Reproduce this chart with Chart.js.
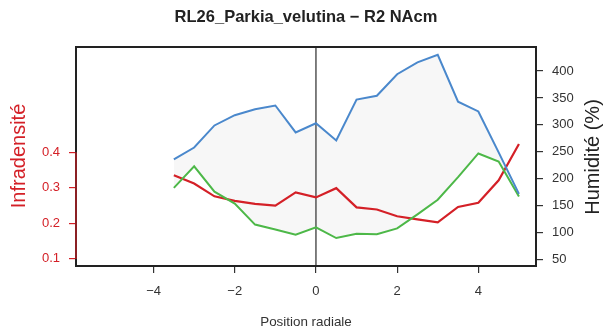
<!DOCTYPE html>
<html>
<head>
<meta charset="utf-8">
<script src="https://cdn.jsdelivr.net/npm/chart.js@4/dist/chart.umd.min.js"></script>
<style>
  html, body { margin: 0; padding: 0; background: #fff; }
  canvas { display: block; }
</style>
</head>
<body>
<canvas id="chart" width="605" height="336"></canvas>
<script>
// radial positions of the samples
const positions = [-3.5, -3, -2.5, -2, -1.5, -1, -0.5, 0, 0.5, 1, 1.5, 2, 2.5, 3, 3.5, 4, 4.5, 5];

// humidity (%) upper curve and lower curve
const humiditeHaut = [236, 258, 299, 318, 329, 336, 286, 303, 271, 347, 354, 394, 416, 430, 343, 325, 249, 172];
const humiditeBas = [183, 223, 176, 154, 115, 106, 96, 110, 90, 98, 97, 108, 134, 161, 203, 247, 232, 167];

// infradensity
const infradensite = [0.335, 0.312, 0.276, 0.263, 0.255, 0.250, 0.287, 0.273, 0.299, 0.245, 0.239, 0.220, 0.211, 0.203, 0.246, 0.258, 0.321, 0.423];

// tick labels
const xTicks = [-4, -2, 0, 2, 4];
const infraTicks = [0.1, 0.2, 0.3, 0.4];
const humTicks = [50, 100, 150, 200, 250, 300, 350, 400];

const FONT = '"Liberation Sans", Arial, Helvetica, sans-serif';
const RED = '#D42027';
const BLUE = '#4A88CC';
const GREEN = '#4DB848';
const INK = '#333';

function pts(ys) {
  return positions.map((x, i) => ({ x: x, y: ys[i] }));
}

const decor = {
  id: 'decor',
  beforeDatasetsDraw(chart) {
    const ctx = chart.ctx;
    const a = chart.chartArea;
    const x0 = chart.scales.x.getPixelForValue(0);
    ctx.save();
    ctx.strokeStyle = '#555';
    ctx.lineWidth = 1.5;
    ctx.beginPath();
    ctx.moveTo(x0, a.top);
    ctx.lineTo(x0, a.bottom);
    ctx.stroke();
    ctx.restore();
  },
  afterDatasetsDraw(chart) {
    const ctx = chart.ctx;
    const a = chart.chartArea;
    const yl = chart.scales.yInf;
    ctx.save();
    // plot box
    ctx.strokeStyle = '#222';
    ctx.lineWidth = 2;
    ctx.strokeRect(a.left, a.top, a.right - a.left, a.bottom - a.top);
    // left axis line in red
    ctx.strokeStyle = RED;
    ctx.lineWidth = 1.2;
    ctx.beginPath();
    ctx.moveTo(a.left, yl.getPixelForValue(0.4));
    ctx.lineTo(a.left, yl.getPixelForValue(0.1));
    ctx.stroke();

    // titles
    const cx = (a.left + a.right) / 2;
    ctx.textAlign = 'center';
    ctx.textBaseline = 'middle';
    ctx.fillStyle = '#222';
    ctx.font = 'bold 16.5px ' + FONT;
    ctx.fillText('RL26_Parkia_velutina \u2212 R2 NAcm', cx, 17);
    ctx.fillStyle = INK;
    ctx.font = '13.4px ' + FONT;
    ctx.fillText('Position radiale', cx, 322);

    ctx.font = '20px ' + FONT;
    ctx.save();
    ctx.translate(19, 156);
    ctx.rotate(-Math.PI / 2);
    ctx.fillStyle = RED;
    ctx.fillText('Infradensit\u00e9', 0, 0);
    ctx.restore();

    ctx.save();
    ctx.translate(593, 157);
    ctx.rotate(-Math.PI / 2);
    ctx.fillStyle = '#222';
    ctx.fillText('Humidit\u00e9 (%)', 0, 0);
    ctx.restore();
    ctx.restore();
  }
};

function fixedTicks(values) {
  return function (scale) {
    scale.ticks = values.map(v => ({ value: v }));
  };
}

new Chart(document.getElementById('chart'), {
  type: 'line',
  data: {
    datasets: [
      {
        label: 'Humidité haut',
        data: pts(humiditeHaut),
        yAxisID: 'yHum',
        borderColor: BLUE,
        backgroundColor: '#F7F7F7',
        borderWidth: 2,
        pointRadius: 0,
        tension: 0,
        fill: '+1'
      },
      {
        label: 'Humidité bas',
        data: pts(humiditeBas),
        yAxisID: 'yHum',
        borderColor: GREEN,
        borderWidth: 2,
        pointRadius: 0,
        tension: 0,
        fill: false
      },
      {
        label: 'Infradensité',
        data: pts(infradensite),
        yAxisID: 'yInf',
        borderColor: RED,
        borderWidth: 2.2,
        pointRadius: 0,
        tension: 0,
        fill: false
      }
    ]
  },
  options: {
    responsive: false,
    devicePixelRatio: 1,
    animation: false,
    layout: { padding: { top: 47, left: 0, right: 0, bottom: 0 } },
    plugins: {
      legend: { display: false },
      tooltip: { enabled: false },
      filler: { drawTime: 'beforeDatasetsDraw' }
    },
    scales: {
      x: {
        type: 'linear',
        min: -5.91,
        max: 5.42,
        afterBuildTicks: fixedTicks(xTicks),
        afterFit(scale) { scale.height = 70; },
        border: { display: false },
        grid: { drawOnChartArea: false, drawTicks: true, tickLength: 7, tickColor: INK, lineWidth: 1.2 },
        ticks: {
          color: INK,
          font: { family: FONT, size: 13 },
          padding: 11,
          maxRotation: 0,
          callback: v => String(v).replace('-', '\u2212')
        }
      },
      yInf: {
        type: 'linear',
        position: 'left',
        min: 0.080,
        max: 0.696,
        afterBuildTicks: fixedTicks(infraTicks),
        afterFit(scale) { scale.width = 76; },
        border: { display: false },
        grid: { drawOnChartArea: false, drawTicks: true, tickLength: 7, tickColor: RED, lineWidth: 1.2 },
        ticks: {
          color: RED,
          font: { family: FONT, size: 13 },
          padding: 9,
          callback: v => v.toFixed(1)
        }
      },
      yHum: {
        type: 'linear',
        position: 'right',
        min: 38.1,
        max: 444.6,
        afterBuildTicks: fixedTicks(humTicks),
        afterFit(scale) { scale.width = 69; },
        border: { display: false },
        grid: { drawOnChartArea: false, drawTicks: true, tickLength: 7, tickColor: INK, lineWidth: 1.2 },
        ticks: {
          color: INK,
          font: { family: FONT, size: 13 },
          padding: 9
        }
      }
    }
  },
  plugins: [decor]
});
</script>
</body>
</html>
